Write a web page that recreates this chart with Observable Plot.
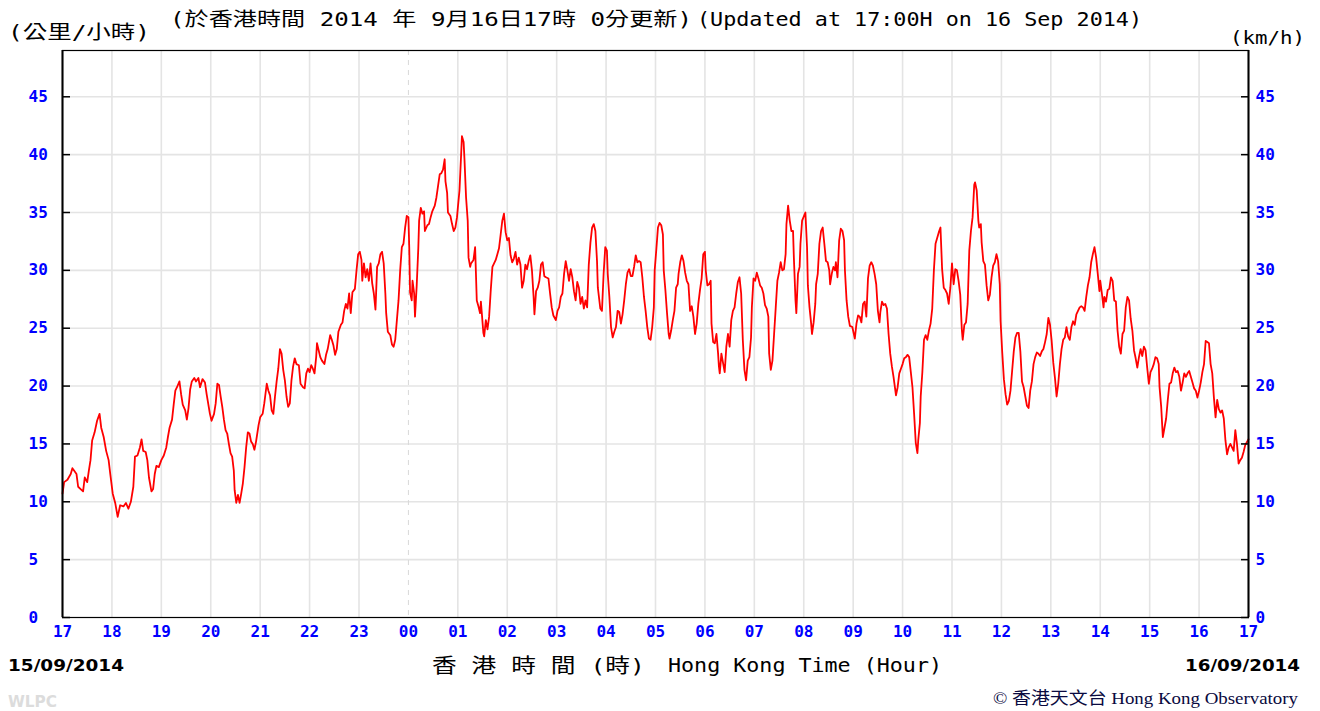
<!DOCTYPE html>
<html><head><meta charset="utf-8">
<script src="https://cdn.jsdelivr.net/npm/d3@7"></script>
<script src="https://cdn.jsdelivr.net/npm/@observablehq/plot@0.6"></script>
<style>
html,body{margin:0;padding:0;background:#fff;}
#chart{width:1320px;height:711px;overflow:hidden;}
</style></head><body><div id="chart"></div>
<script>
// hour tick labels (every 60 minutes from 15/09 17:00 to 16/09 17:00)
const hourLabels = ["17","18","19","20","21","22","23","00","01","02","03","04","05","06","07","08","09","10","11","12","13","14","15","16","17"];
const yTicks = [0,5,10,15,20,25,30,35,40,45];

// minutes after 15/09/2014 17:00
const minutes = [
0,2,6,10,12,14,17,19,22,25,27,30,32,34,36,39,42,45,47,50,53,56,58,61,64,67,70,74,77,80,83,86,88,91,94,96,98,101,103,105,108,110,112,114,117,120,123,126,128,130,133,135,137,139,142,144,146,149,151,153,155,157,160,162,165,167,170,173,175,
179,181,184,186,188,190,192,194,196,198,200,202,204,206,208,209,211,213,215,217,219,221,223,225,227,229,231,233,235,238,240,243,245,248,250,252,254,256,258,260,262,264,266,268,270,272,274,276,278,280,282,284,287,289,292,294,296,298,300,302,304,306,308,309,311,313,315,318,320,322,325,327,329,331,333,335,338,340,342,344,346,348,
350,352,355,357,359,361,363,364,366,368,370,372,374,376,378,380,382,384,386,388,390,392,393,395,398,400,402,404,406,408,410,412,414,416,418,420,421,422,424,425,427,428,430,432,433,435,437,439,440,443,445,447,449,452,454,456,458,460,462,464,465,467,468,471,473,475,477,479,480,482,484,485,487,488,490,492,493,495,496,499,501,503,505,507,508,511,512,514,516,518,520,522,524,526,528,530,532,534,
536,538,540,542,544,546,548,550,552,554,556,558,560,562,564,566,568,570,572,573,575,577,579,581,583,585,587,590,592,594,596,599,601,603,605,607,609,611,613,615,617,619,621,623,625,627,629,631,633,635,637,639,641,643,645,647,649,650,653,655,657,659,661,662,664,666,668,670,672,674,676,678,680,682,684,686,688,690,692,694,696,698,700,702,704,706,708,710,712,
714,716,718,719,721,723,725,727,729,730,732,734,736,737,739,741,743,745,747,748,750,752,754,756,758,760,762,764,766,768,770,772,774,776,778,780,781,783,785,787,788,790,792,794,796,797,798,800,802,804,806,808,810,812,814,816,818,820,822,824,826,828,830,832,834,836,837,839,841,843,845,847,849,851,853,855,857,858,860,862,864,866,868,870,872,874,876,878,879,881,883,885,887,888,890,891,893,895,896,898,
902,904,905,907,909,910,912,914,915,917,919,921,923,925,927,929,931,932,934,936,938,939,941,943,945,947,949,950,952,954,956,959,962,964,966,968,970,972,974,976,978,980,982,984,986,988,990,992,993,995,997,999,1001,1003,1005,1007,1009,1012,1014,1016,1018,1020,1022,1024,1026,1028,1030,1032,1034,1036,1038,1039,1041,1042,1044,1046,1048,1050,1052,1054,1056,1058,1060,1062,1064,1066,1068,1070,1072,1074,1076,1078,1080,
1082,1084,1086,1088,1090,1092,1093,1095,1097,1099,1101,1103,1105,1107,1108,1110,1112,1113,1115,1116,1118,1120,1122,1124,1126,1128,1130,1132,1134,1136,1138,1139,1141,1143,1145,1147,1149,1151,1153,1155,1157,1159,1161,1163,1165,1167,1169,1171,1173,1175,1177,1179,1181,1183,1185,1187,1189,1191,1193,1195,1197,1199,1201,1203,1205,1207,1209,1211,1213,1215,1217,1219,1221,1223,1225,1227,1229,1231,1233,1235,1237,1239,1241,1243,1245,1247,1249,1251,1253,1255,1257,1259,
1260,1262,1264,1265,1267,1269,1271,1273,1275,1277,1279,1281,1283,1285,1287,1289,1291,1293,1295,1297,1299,1301,1303,1305,1307,1309,1311,1313,1315,1317,1319,1321,1323,1325,1327,1329,1331,1332,1334,1336,1338,1340,1342,1344,1346,1348,1350,1352,1354,1356,1358,1360,1362,1364,1366,1368,1370,1372,1374,1376,1378,1380,1382,1384,1386,1388,1390,1392,1394,1396,1398,1400,1402,1404,1406,1408,1410,1412,1414,1416,1418,1420,1422,1424,1426,1428,1430,1432,1434,1436,1440
];

// wind speed, km/h
const speeds = [
10.7,11.7,11.9,12.4,12.9,12.7,12.4,11.3,11.1,10.9,12.1,11.7,12.7,13.6,15.3,16.0,17.0,17.6,16.4,15.6,14.4,13.6,12.4,10.7,9.9,8.7,9.7,9.6,9.9,9.4,10.0,11.3,13.9,14.0,14.7,15.4,14.4,14.3,13.6,12.1,10.9,11.1,12.4,13.1,13.0,13.6,14.0,14.7,15.6,16.4,17.1,18.4,19.6,19.9,20.4,19.3,18.4,17.9,17.1,18.1,19.7,20.4,20.7,20.4,20.7,19.9,20.6,20.3,19.3,
17.6,17.0,17.6,18.5,20.2,20.1,19.1,18.2,17.1,16.2,15.9,15.0,14.2,13.9,12.7,11.0,9.9,10.6,9.9,10.7,11.6,13.0,14.7,16.0,15.9,15.2,15.0,14.5,15.2,16.6,17.3,17.6,18.5,20.2,19.6,19.2,17.9,17.6,19.1,20.4,21.5,23.2,22.8,21.4,20.5,19.1,18.2,18.5,20.5,21.7,22.4,21.9,21.8,20.2,19.9,19.8,21.1,21.5,21.2,21.8,21.5,21.1,22.5,23.7,23.1,22.5,22.2,21.9,22.7,23.2,24.4,24.0,23.5,22.7,23.2,24.7,25.3,25.5,26.5,27.1,26.7,28.0,
26.3,28.1,28.4,30.0,31.4,31.6,30.9,29.1,30.6,29.4,30.1,29.1,30.6,28.9,28.0,26.6,30.3,30.6,31.4,31.6,30.6,28.0,26.3,24.7,24.4,23.6,23.4,24.0,25.7,27.4,30.0,32.0,32.3,33.7,34.7,34.6,32.0,28.1,27.4,29.1,28.0,26.0,28.6,31.9,34.3,35.4,34.9,35.1,33.4,33.9,34.0,34.6,35.1,35.6,36.3,37.3,38.3,38.4,38.7,39.6,37.7,36.7,35.0,34.7,34.0,33.4,33.7,34.6,35.4,36.9,40.0,41.6,41.1,39.7,36.3,34.3,31.1,30.3,30.6,30.9,32.0,27.4,26.9,26.3,27.3,24.6,24.3,25.7,24.9,26.0,28.3,30.3,30.6,30.9,31.4,31.9,33.1,34.3,
34.9,33.3,32.6,32.8,31.3,30.7,31.0,31.6,30.5,31.1,30.5,28.5,29.1,30.5,30.1,30.8,31.3,30.0,27.7,26.2,28.2,28.5,29.1,30.5,30.7,29.5,29.4,29.3,28.0,26.8,26.1,25.7,26.5,26.8,27.7,28.0,29.7,30.8,30.0,29.1,30.1,29.4,28.2,27.4,29.0,28.5,27.1,27.7,26.7,27.4,26.8,30.5,32.4,33.7,34.0,33.4,30.8,28.5,26.7,26.5,29.7,32.0,31.7,29.7,27.7,25.1,24.2,24.7,25.1,26.5,26.4,25.4,26.2,27.4,28.8,29.8,30.1,29.5,29.5,30.3,31.3,30.7,30.8,30.7,29.4,27.7,26.5,25.1,24.1,
24.0,25.1,26.8,30.0,31.8,33.7,34.1,33.9,33.1,30.0,28.3,26.3,24.5,24.1,24.8,25.7,26.5,28.5,28.8,29.7,30.7,31.3,30.8,29.8,29.1,28.8,26.5,26.9,26.0,24.5,25.4,27.1,28.3,29.3,31.4,31.6,30.0,28.7,28.8,29.1,25.4,23.8,23.7,24.5,22.8,21.7,21.1,22.8,22.0,21.2,23.4,24.5,23.4,25.7,26.5,26.8,28.0,29.0,29.4,28.0,24.0,21.4,20.5,22.2,22.5,24.2,26.8,29.3,29.1,29.8,29.3,28.7,28.5,28.0,27.0,26.7,26.0,22.8,21.4,22.2,24.5,26.8,29.1,29.8,30.7,30.0,30.1,31.4,34.0,35.6,34.3,33.4,33.4,31.1,27.4,26.3,29.7,30.3,32.3,34.3,
35.0,32.0,28.7,26.8,25.4,24.5,25.5,27.1,28.8,29.7,32.3,33.4,33.7,32.3,30.8,30.7,30.0,28.8,29.7,30.3,30.0,30.7,29.4,32.6,33.6,33.4,32.6,30.0,27.4,26.0,25.2,25.1,24.1,25.4,26.1,26.0,25.5,27.1,27.3,26.0,29.3,30.4,30.7,30.4,29.7,28.8,26.5,25.5,26.4,27.3,27.0,27.1,26.7,24.5,22.8,21.7,20.8,19.2,19.9,21.1,21.5,21.9,22.4,22.5,22.7,22.5,21.2,19.9,17.6,15.1,14.2,15.3,16.8,19.1,21.2,24.0,24.4,24.0,24.8,25.4,26.7,30.0,32.3,32.8,33.3,33.7,30.1,28.5,28.3,28.0,27.1,28.5,30.6,
28.8,30.1,30.0,29.1,27.9,24.8,24.0,25.3,25.5,27.1,31.7,33.4,34.6,37.4,37.6,36.9,34.3,33.7,34.0,32.4,30.8,30.5,28.7,27.4,27.9,29.4,30.4,30.7,31.4,30.8,28.8,25.6,22.9,20.6,19.3,18.4,18.7,19.6,21.3,23.0,24.2,24.6,24.6,23.0,20.4,19.9,19.1,18.3,18.1,19.6,20.4,21.9,22.5,22.9,22.8,22.6,23.0,23.2,23.8,24.5,25.9,25.3,23.9,22.0,20.7,19.1,20.2,21.9,23.2,24.0,24.2,25.1,24.3,24.0,25.1,25.6,25.3,26.2,26.5,26.8,26.9,26.8,26.5,27.7,28.7,29.4,30.7,31.4,32.0,31.1,29.7,28.2,
29.1,28.0,26.8,27.7,27.3,28.3,28.4,29.4,29.1,27.4,27.3,24.8,23.4,22.8,24.5,24.8,26.8,27.7,27.4,25.8,24.8,23.1,22.4,21.6,22.5,23.2,22.6,23.4,23.1,21.6,20.2,21.2,21.5,21.9,22.5,22.4,21.9,19.9,18.2,15.6,16.4,17.2,18.8,20.2,20.3,21.1,21.6,21.2,21.3,20.8,19.6,20.3,21.1,20.8,21.1,21.3,20.8,20.3,19.8,19.6,19.0,19.6,20.3,21.2,21.9,23.9,23.8,23.7,21.9,21.1,19.0,17.3,18.8,18.0,17.7,17.9,17.2,15.3,14.1,14.7,15.0,14.7,14.4,16.2,15.0,13.3,13.6,13.8,14.3,14.9,15.4
];

const titleZh = "(於香港時間 2014 年 9月16日17時 0分更新)";
const titleEn = "(Updated at 17:00H on 16 Sep 2014)";
const unitZh = "(公里/小時)";
const unitEn = "(km/h)";
const axisZh = "香 港 時 間 (時)";
const axisEn = "Hong Kong Time (Hour)";
const dateStart = "15/09/2014";
const dateEnd = "16/09/2014";
const creditText = "WLPC";
const observatoryText = "© 香港天文台 Hong Kong Observatory";

const n = Math.min(minutes.length, speeds.length);
const samples = d3.range(n).map(i => ({t: minutes[i], v: speeds[i]}));
const hourTicks = hourLabels.map((_, i) => i * 60);
const innerHours = hourTicks.filter(t => t > 0 && t < 1440 && t !== 420);
const midnight = [420];

const blue = "#0000ff";
const mono = "'DejaVu Sans Mono', 'Liberation Mono', monospace";

const chart = Plot.plot({
  width: 1320,
  height: 711,
  marginLeft: 62,
  marginRight: 72,
  marginTop: 50,
  marginBottom: 94,
  style: {background: "#fff", overflow: "visible"},
  x: {domain: [0, 1440], axis: null},
  y: {domain: [0, 49], axis: null},
  marks: [
    Plot.ruleX(innerHours, {stroke: "#e4e4e4", strokeWidth: 1.6}),
    Plot.ruleY(yTicks.filter(d => d > 0), {stroke: "#e4e4e4", strokeWidth: 1.6}),
    Plot.ruleX(midnight, {stroke: "#d8d8d8", strokeWidth: 1, strokeDasharray: "5,5"}),
    Plot.line(samples, {x: "t", y: "v", stroke: "#ff0000", strokeWidth: 1.8, curve: "linear"}),
    Plot.frame({stroke: "#000", strokeWidth: 1.2}),
    Plot.ruleX([0, 1440], {stroke: "#000", strokeWidth: 2}),
    Plot.axisY({anchor: "left", ticks: yTicks, tickSize: -8, tickFormat: () => "", label: null, stroke: "#000", strokeWidth: 1.5}),
    Plot.axisY({anchor: "right", ticks: yTicks, tickSize: -8, tickFormat: () => "", label: null, stroke: "#000", strokeWidth: 1.5}),
    Plot.text(yTicks, {y: d => d, text: d => String(d), frameAnchor: "left", dx: -34, textAnchor: "start",
      fill: blue, fontWeight: "bold", fontSize: 16, fontFamily: mono}),
    Plot.text(yTicks, {y: d => d, text: d => String(d), frameAnchor: "right", dx: 7, textAnchor: "start",
      fill: blue, fontWeight: "bold", fontSize: 16, fontFamily: mono}),
    Plot.text(hourTicks, {x: d => d, text: (d, i) => hourLabels[i], frameAnchor: "bottom", dy: 19,
      fill: blue, fontWeight: "bold", fontSize: 16, fontFamily: mono})
  ]
});

document.getElementById("chart").appendChild(chart);

const svg = d3.select(chart);
function addText(str, x, y, o) {
  const t = svg.append("text")
    .attr("x", x).attr("y", y)
    .attr("font-family", o.family || mono)
    .attr("font-size", o.size || 18)
    .attr("fill", o.fill || "#000")
    .attr("font-weight", o.weight || "normal")
    .attr("text-anchor", o.anchor || "start")
    .text(str);
  if (o.len) t.attr("textLength", o.len).attr("lengthAdjust", "spacingAndGlyphs");
  return t;
}
const cjkMono = "'DejaVu Sans Mono', 'Noto Sans CJK TC', monospace";
addText(titleZh, 170, 26, {family: cjkMono, size: 19, len: 522});
addText(titleEn, 697, 26, {size: 19, len: 445});
addText(unitZh, 8, 39, {family: cjkMono, size: 19, len: 142});
addText(unitEn, 1230, 44, {size: 18, len: 75});
addText(axisZh, 432, 673, {family: cjkMono, size: 20, len: 213});
addText(axisEn, 668, 672, {size: 19, len: 274});
addText(dateStart, 8, 671, {family: "'DejaVu Sans', sans-serif", size: 16, weight: "bold", len: 116});
addText(dateEnd, 1185, 671, {family: "'DejaVu Sans', sans-serif", size: 16, weight: "bold", len: 115});
addText(creditText, 8, 707, {family: "'DejaVu Sans', sans-serif", size: 15, weight: "bold", fill: "#dcdcdc", len: 49});
addText(observatoryText, 993, 704, {family: "'Liberation Serif', 'Noto Sans CJK TC', serif", size: 17, fill: "#0a0a40", len: 305});
</script>
</body></html>
